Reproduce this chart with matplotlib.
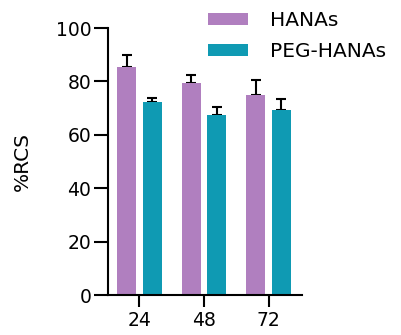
import numpy as np
import matplotlib
matplotlib.use("Agg")
import matplotlib.pyplot as plt

plt.rcParams['font.family'] = ['DejaVu Sans']

# data
times = ['24', '48', '72']
hanas = [85.5, 79.4, 74.9]
hanas_err = [4.4, 2.9, 5.5]
peg = [72.3, 67.4, 69.3]
peg_err = [1.3, 3.0, 4.0]

purple = '#B07FBF'
teal = '#0F9AB3'

fig = plt.figure(figsize=(4.01, 3.35), dpi=100)
ax = fig.add_axes([0.2693, 0.1194, 0.4838, 0.797])

x = np.arange(len(times))
w = 0.295
off = 0.2

ax.bar(x - off, hanas, w, color=purple, label='HANAs', zorder=2)
ax.bar(x + off, peg, w, color=teal, label='PEG-HANAs', zorder=2)
ax.errorbar(x - off, hanas, yerr=[np.zeros(3), hanas_err], fmt='none',
            ecolor='black', elinewidth=1.5, capsize=3.6, capthick=1.5, zorder=1)
ax.errorbar(x + off, peg, yerr=[np.zeros(3), peg_err], fmt='none',
            ecolor='black', elinewidth=1.5, capsize=3.6, capthick=1.5, zorder=1)

ax.set_xlim(-0.488, 2.519)
ax.set_ylim(0, 100)
ax.set_yticks([0, 20, 40, 60, 80, 100])
ax.set_xticks(x)
ax.set_xticklabels(times)

for s in ['top', 'right']:
    ax.spines[s].set_visible(False)
for s in ['left', 'bottom']:
    ax.spines[s].set_linewidth(1.5)

ax.tick_params(axis='y', length=10, width=1.5, labelsize=13.5, pad=2)
ax.tick_params(axis='x', length=8.6, width=1.5, labelsize=13.5, pad=3)
ax.set_ylabel('%RCS', fontsize=14.5, labelpad=17)

ax.legend(loc='upper left', bbox_to_anchor=(0.5187, 0.968),
          bbox_transform=fig.transFigure, frameon=False, fontsize=14.5,
          handlelength=2.0, handleheight=0.55, handletextpad=1.1,
          labelspacing=0.62, borderpad=0, borderaxespad=0)

fig.savefig('out.png', dpi=100)
